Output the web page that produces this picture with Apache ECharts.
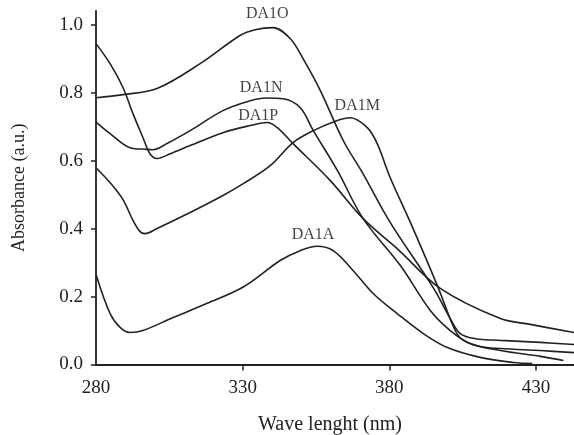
<!DOCTYPE html>
<html><head><meta charset="utf-8">
<script src="https://cdn.jsdelivr.net/npm/echarts@6/dist/echarts.min.js"></script>
<style>html,body{margin:0;padding:0;background:#fff}#c{width:574px;height:435px}</style>
</head><body><div id="c"></div>
<script>
// ---- data ----
const xTickLabels = [280, 330, 380, 430];
const yTickLabels = [0, 0.2, 0.4, 0.6, 0.8, 1.0];

const wlO = [280, 289.2, 300.8, 315.5, 329.1, 334.3, 340.4, 346.2, 350.6, 356.5, 364.3, 370.8, 380.3, 395, 400.8, 404.2, 409.4, 417.9, 431.5, 443];
const absO = [0.785, 0.794, 0.812, 0.885, 0.968, 0.985, 0.991, 0.959, 0.9, 0.806, 0.659, 0.565, 0.418, 0.226, 0.135, 0.091, 0.076, 0.071, 0.065, 0.059];

const wlN = [280, 284.8, 291.6, 297.4, 299.5, 304.2, 312.1, 323.3, 332.6, 338, 343.8, 349.6, 354.1, 362.3, 371.1, 383.8, 394, 400.8, 407.6, 417.9, 431.5, 439.4];
const absN = [0.713, 0.679, 0.638, 0.633, 0.632, 0.65, 0.688, 0.747, 0.776, 0.784, 0.782, 0.756, 0.688, 0.571, 0.429, 0.291, 0.159, 0.1, 0.062, 0.041, 0.024, 0.012];

const wlP = [280, 284.8, 289.2, 292.6, 296, 298.4, 300.8, 305.3, 312.1, 323.3, 332.6, 338.4, 341.8, 347.2, 359.9, 371.1, 382.7, 397.4, 417.9, 428.1, 443];
const absP = [0.944, 0.885, 0.815, 0.738, 0.668, 0.62, 0.606, 0.62, 0.644, 0.682, 0.703, 0.712, 0.697, 0.65, 0.541, 0.429, 0.341, 0.224, 0.135, 0.118, 0.094];

const wlM = [280, 284.8, 289.2, 292.6, 295, 296.7, 300.8, 312.1, 323.3, 330.2, 339.4, 347.2, 354.1, 362.3, 366.7, 372.5, 375.9, 380.3, 387.2, 396.4, 402.5, 405.3, 411, 417.9, 431.5, 443];
const absM = [0.579, 0.535, 0.485, 0.424, 0.391, 0.385, 0.4, 0.447, 0.497, 0.532, 0.585, 0.653, 0.688, 0.718, 0.726, 0.697, 0.65, 0.55, 0.418, 0.232, 0.1, 0.071, 0.053, 0.047, 0.041, 0.035];

const wlA = [280, 284.8, 288.2, 291.6, 296, 306.3, 317.9, 330.2, 342.8, 349.6, 355.4, 360.9, 367.7, 374.5, 382.7, 391.6, 399.8, 411, 422.3, 428.8];
const absA = [0.265, 0.15, 0.109, 0.094, 0.1, 0.138, 0.18, 0.228, 0.306, 0.335, 0.348, 0.335, 0.276, 0.209, 0.15, 0.091, 0.05, 0.021, 0.006, 0.003];

const seriesNames = ['DA1O', 'DA1N', 'DA1P', 'DA1M', 'DA1A'];
const labelX = [338.4, 336.3, 335.3, 369.1, 354];
const labelY = [1.032, 0.815, 0.732, 0.762, 0.382];
// -------------

const wls = [wlO, wlN, wlP, wlM, wlA];
const abss = [absO, absN, absP, absM, absA];
const FONT = '"Liberation Serif", "DejaVu Serif", serif';
const INK = '#222';

const series = seriesNames.map((name, i) => ({
  name, type: 'line', symbol: 'none', smooth: 0.35,
  lineStyle: { color: INK, width: 1.6 },
  data: wls[i].map((x, k) => [x, abss[i][k]])
}));
series.push({
  name: 'labels', type: 'scatter', symbolSize: 1,
  itemStyle: { color: 'rgba(0,0,0,0)' },
  data: seriesNames.map((n, i) => ({ name: n, value: [labelX[i], labelY[i]] })),
  label: { show: true, position: 'inside', formatter: p => p.name, color: '#111', fontFamily: FONT, fontSize: 16, textBorderWidth: 0 },
  silent: true, z: 5
});

const chart = echarts.init(document.getElementById('c'), null, { renderer: 'canvas' });
chart.setOption({
  animation: false,
  backgroundColor: '#fff',
  grid: { left: 96, right: 0, top: 11, bottom: 70.5, containLabel: false, outerBoundsMode: 'none' },
  xAxis: {
    type: 'value', min: 280, max: 443, interval: 50,
    splitLine: { show: false },
    axisLine: { lineStyle: { color: INK, width: 1.8 } },
    axisTick: { show: true, length: 6, lineStyle: { color: INK, width: 1.5 }, customValues: [330, 380, 430] },
    axisLabel: { color: INK, fontFamily: FONT, fontSize: 19, margin: 14, customValues: xTickLabels },
    name: 'Wave lenght (nm)', nameLocation: 'middle', nameGap: 50,
    nameTextStyle: { color: INK, fontFamily: FONT, fontSize: 20, padding: [0, 10, 0, 0] }
  },
  yAxis: {
    type: 'value', min: 0, max: 1.04, interval: 0.2,
    splitLine: { show: false },
    axisLine: { show: true, lineStyle: { color: INK, width: 1.8 } },
    axisTick: { show: true, length: 5, lineStyle: { color: INK, width: 1.5 }, customValues: yTickLabels },
    axisLabel: { color: INK, fontFamily: FONT, fontSize: 19, margin: 13, customValues: yTickLabels,
      formatter: v => v.toFixed(1) },
    name: 'Absorbance (a.u.)', nameLocation: 'middle', nameGap: 68,
    nameTextStyle: { color: INK, fontFamily: FONT, fontSize: 18 }
  },
  series
});
</script></body></html>
